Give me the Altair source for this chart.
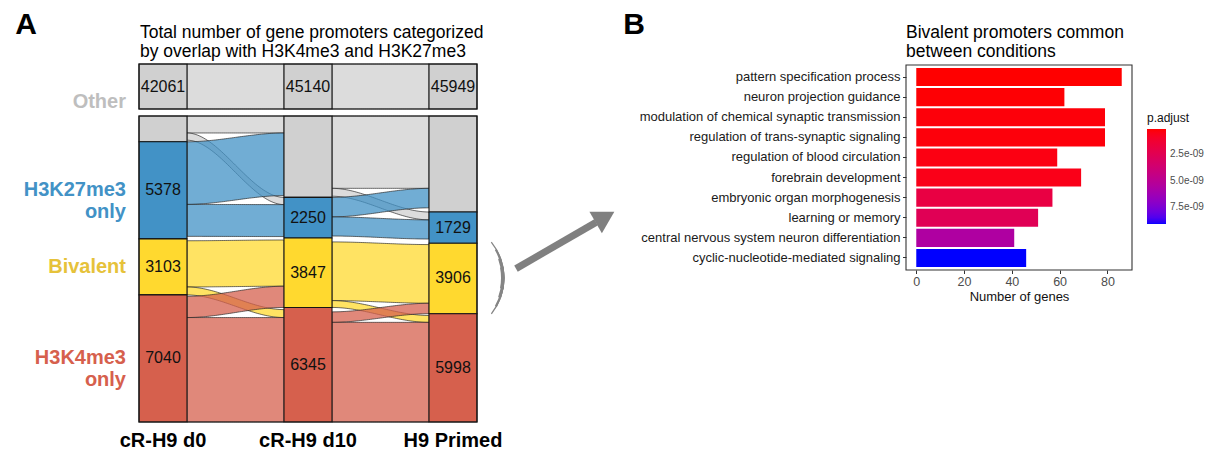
import altair as alt
import numpy as np
import pandas as pd

# ---------------------------------------------------------------- data
conditions = ["cR-H9 d0", "cR-H9 d10", "H9 Primed"]
states = ["Other", "H3K27me3 only", "Bivalent", "H3K4me3 only"]  # top to bottom
other_counts = [42061, 45140, 45949]
k27_counts = [5378, 2250, 1729]
bivalent_counts = [3103, 3847, 3906]
k4_counts = [7040, 6345, 5998]

# promoter transitions between neighbouring conditions
# rows: state in the earlier condition, columns: state in the later one
d0_to_d10 = [
    [41572, 400, 30, 59],
    [3468, 1770, 80, 60],
    [60, 43, 2560, 440],
    [40, 37, 1177, 5786],
]
d10_to_primed = [
    [44639, 437, 36, 28],
    [1080, 1060, 40, 70],
    [110, 107, 3250, 380],
    [120, 125, 580, 5520],
]

go_terms = [
    "pattern specification process",
    "neuron projection guidance",
    "modulation of chemical synaptic transmission",
    "regulation of trans-synaptic signaling",
    "regulation of blood circulation",
    "forebrain development",
    "embryonic organ morphogenesis",
    "learning or memory",
    "central nervous system neuron differentiation",
    "cyclic-nucleotide-mediated signaling",
]
go_counts = [86, 62, 79, 79, 59, 69, 57, 51, 41, 46]
go_padj = [1.4e-10, 2.0e-10, 2.8e-10, 3.0e-10, 4.2e-10, 5.5e-10,
           1.9e-09, 2.6e-09, 5.6e-09, 9.1e-09]
padj_ticks = [2.5e-09, 5.0e-09, 7.5e-09]
count_ticks = [0, 20, 40, 60, 80]

# ---------------------------------------------------------------- style / layout
FONT = "Liberation Sans"
W, H = 1209, 453
state_fill = ["#D0D0D0", "#4292C6", "#FFD92F", "#D6604D"]
state_label_color = ["#BEBEBE", "#4292C6", "#E6C23A", "#D6604D"]
state_group = [0, 0, 1, 1]  # transitions across groups are left blank

A_LEFT, A_RIGHT = 139, 477
MAIN_TOP, MAIN_BOTTOM = 116, 422
BOX_TOP, BOX_BOTTOM = 64, 109
B_LEFT, B_RIGHT = 906, 1132
B_TOP, B_BOTTOM = 65, 270
LEG_X, LEG_Y, LEG_W, LEG_LEN, LEG_TITLE = 1147, 113, 19, 95, 16

HALF = 0.1655          # half width of a stratum column, in axis units
CUT = 16950            # upper limit of the lower (broken) y range
total = other_counts[0] + k27_counts[0] + bivalent_counts[0] + k4_counts[0]

x_a = alt.Scale(domain=[1 - HALF, 3 + HALF], range=[A_LEFT, A_RIGHT], nice=False, zero=False)
y_main = alt.Scale(domain=[0, CUT], range=[MAIN_BOTTOM, MAIN_TOP], nice=False, zero=False)
y_box = alt.Scale(domain=[CUT, total], range=[BOX_BOTTOM, BOX_TOP], nice=False, zero=False)

# ---------------------------------------------------------------- strata
column_counts = list(zip(other_counts, k27_counts, bivalent_counts, k4_counts))


def stratum_bottoms(c):
    counts = column_counts[c]
    out, acc = [0] * 4, 0
    for s in reversed(range(4)):
        out[s] = acc
        acc += counts[s]
    return out


strata_main, strata_box = [], []
for c, counts in enumerate(column_counts):
    b = stratum_bottoms(c)
    for s in range(4):
        lo, hi = b[s], b[s] + counts[s]
        strata_main.append(dict(x0=c + 1 - HALF, x1=c + 1 + HALF, lo=lo, hi=min(hi, CUT),
                                mid=(lo + hi) / 2, fill=state_fill[s],
                                label=str(counts[s]) if s > 0 else ""))
        if hi > CUT:
            strata_box.append(dict(x0=c + 1 - HALF, x1=c + 1 + HALF, lo=max(lo, CUT), hi=hi,
                                   pos=c + 1, mid=(max(lo, CUT) + hi) / 2,
                                   fill=state_fill[s], label=str(counts[s])))
strata_main = pd.DataFrame(strata_main)
strata_box = pd.DataFrame(strata_box)
strata_main["pos"] = (strata_main["x0"] + strata_main["x1"]) / 2

# ---------------------------------------------------------------- flows
t = np.linspace(0, 1, 49)
ease = 3 * t ** 2 - 2 * t ** 3
flow_main, flow_box = [], []
for c, M in enumerate([d0_to_d10, d10_to_primed]):
    b0, b1 = stratum_bottoms(c), stratum_bottoms(c + 1)
    xs = (c + 1 + HALF) + ((c + 2 - HALF) - (c + 1 + HALF)) * t
    for i in range(4):
        for j in range(4):
            if state_group[i] != state_group[j]:
                continue
            src_lo = b0[i] + sum(M[i][j + 1:])
            dst_lo = b1[j] + sum(M[k][j] for k in range(i + 1, 4))
            lo = src_lo + (dst_lo - src_lo) * ease
            hi = lo + M[i][j]
            layer = 1 if i in (1, 3) else 0
            fid = f"{c}-{i}-{j}"
            for x, l, h in zip(xs, lo, hi):
                flow_main.append(dict(flow=fid, x=x, lo=min(l, CUT), hi=min(h, CUT),
                                      fill=state_fill[i], layer=layer))
                if h > CUT:
                    flow_box.append(dict(flow=fid, x=x, lo=max(l, CUT), hi=h,
                                         fill=state_fill[i], layer=layer))
flow_main = pd.DataFrame(flow_main)
flow_box = pd.DataFrame(flow_box)


def flow_layer(df, yscale):
    return alt.Chart(df).mark_area(
        orient="vertical", fillOpacity=0.75, stroke="#262626",
        strokeWidth=0.75, strokeOpacity=0.9,
    ).encode(
        x=alt.X("x:Q", scale=x_a, axis=None),
        y=alt.Y("lo:Q", scale=yscale, axis=None),
        y2="hi:Q",
        fill=alt.Fill("fill:N", scale=None),
        detail="flow:N",
    )


flows = [
    flow_layer(flow_main[flow_main.layer == 0], y_main),
    flow_layer(flow_main[flow_main.layer == 1], y_main),
    flow_layer(flow_box, y_box),
]


def strata_layer(df, yscale):
    return alt.Chart(df).mark_rect(stroke="#141414", strokeWidth=1.1).encode(
        x=alt.X("x0:Q", scale=x_a, axis=None),
        x2="x1:Q",
        y=alt.Y("lo:Q", scale=yscale, axis=None),
        y2="hi:Q",
        fill=alt.Fill("fill:N", scale=None),
    )


def count_labels(df, yscale):
    return alt.Chart(df).mark_text(font=FONT, fontSize=16, color="#111").encode(
        x=alt.X("pos:Q", scale=x_a, axis=None),
        y=alt.Y("mid:Q", scale=yscale, axis=None),
        text="label:N",
    )


frames = pd.DataFrame({"x0": [1 - HALF, 1 - HALF], "x1": [3 + HALF, 3 + HALF],
                       "lo": [0, CUT], "hi": [CUT, total], "part": ["main", "box"]})


def frame_layer(df, yscale):
    return alt.Chart(df).mark_rect(fillOpacity=0, stroke="#141414", strokeWidth=1.1).encode(
        x=alt.X("x0:Q", scale=x_a, axis=None), x2="x1:Q",
        y=alt.Y("lo:Q", scale=yscale, axis=None), y2="hi:Q",
    )


panel_a = flows + [
    strata_layer(strata_main, y_main),
    strata_layer(strata_box, y_box),
    frame_layer(frames[frames.part == "main"], y_main),
    frame_layer(frames[frames.part == "box"], y_box),
    count_labels(strata_main[strata_main.label != ""], y_main),
    count_labels(strata_box, y_box),
]

# state names at the left, centred on the first column's strata
first = strata_main.iloc[0:4]
state_labels = pd.DataFrame({
    "text": [s.replace(" only", "\nonly") for s in states[1:]],
    "mid": first["mid"].iloc[1:].values,
    "color": state_label_color[1:],
})
panel_a.append(
    alt.Chart(state_labels).mark_text(
        font=FONT, fontSize=20, fontWeight="bold", align="right", baseline="middle",
        lineBreak="\n", lineHeight=22,
    ).encode(
        x=alt.value(126),
        y=alt.Y("mid:Q", scale=y_main, axis=None),
        text="text:N",
        color=alt.Color("color:N", scale=None),
    )
)
panel_a.append(
    alt.Chart(pd.DataFrame({"text": [states[0]], "y": [CUT]})).mark_text(
        font=FONT, fontSize=20, fontWeight="bold", align="right", baseline="alphabetic",
        dy=-1.5, color=state_label_color[0],
    ).encode(x=alt.value(126), y=alt.Y("y:Q", scale=y_box, axis=None), text="text:N")
)
panel_a.append(
    alt.Chart(pd.DataFrame({"cond": conditions, "pos": [1, 2, 3]})).mark_text(
        font=FONT, fontSize=20, fontWeight="bold", baseline="middle", color="#000",
    ).encode(x=alt.X("pos:Q", scale=x_a, axis=None), y=alt.value(441), text="cond:N")
)

# ---------------------------------------------------------------- panel B
go_df = pd.DataFrame({"term": go_terms, "count": go_counts, "p": go_padj, "start": 0})
pad = 0.05 * max(go_counts)
x_b = alt.Scale(domain=[-pad, max(go_counts) + pad], range=[B_LEFT, B_RIGHT], nice=False, zero=False)
y_b = alt.Scale(domain=go_terms, range=[B_TOP, B_BOTTOM], paddingInner=0.1, paddingOuter=0.15)

bars = alt.Chart(go_df).mark_bar().encode(
    x=alt.X("count:Q", scale=x_b, axis=alt.Axis(
        orient="bottom", offset=B_BOTTOM - H, values=count_ticks, format="d",
        title="Number of genes", domain=False, grid=False,
        tickSize=3.5, tickColor="#333", tickWidth=1,
        labelFont=FONT, labelFontSize=12.5, labelColor="#4D4D4D", labelPadding=1.5,
        titleFont=FONT, titleFontSize=13, titleFontWeight="normal", titleColor="#111",
        titlePadding=3,
    )),
    x2="start:Q",
    y=alt.Y("term:N", scale=y_b, sort=go_terms, axis=alt.Axis(
        orient="left", offset=-B_LEFT, title=None, domain=False, grid=False,
        tickSize=3.5, tickColor="#333", tickWidth=1,
        labelFont=FONT, labelFontSize=13, labelColor="#1a1a1a", labelPadding=2.5,
        labelLimit=400,
    )),
    color=alt.Color("p:Q", scale=alt.Scale(
        domain=[max(go_padj), min(go_padj)], range=["#0000FF", "#FF0000"],
        interpolate="lab", zero=False, nice=False,
    ), legend=alt.Legend(
        title="p.adjust", orient="none", legendX=LEG_X, legendY=LEG_Y, direction="vertical",
        gradientLength=LEG_LEN, gradientThickness=LEG_W, gradientStrokeWidth=0,
        values=padj_ticks, labelExpr="replace(format(datum.value, '.1e'), 'e-', 'e-0')",
        labelFont=FONT, labelFontSize=10, labelColor="#4D4D4D", labelOffset=4,
        titleFont=FONT, titleFontSize=12, titleFontWeight="normal", titleColor="#111",
        titlePadding=4, padding=0,
    )),
)

panel_frame = alt.Chart(pd.DataFrame({"a": [-pad], "b": [max(go_counts) + pad]})).mark_rect(
    fillOpacity=0, stroke="#333", strokeWidth=1.1,
).encode(
    x=alt.X("a:Q", scale=x_b, axis=None), x2="b:Q",
    y=alt.value(B_TOP), y2=alt.value(B_BOTTOM),
)

# short white ticks on both edges of the colour bar
bar_top = LEG_Y + LEG_TITLE
y_leg = alt.Scale(domain=[min(go_padj), max(go_padj)], range=[bar_top, bar_top + LEG_LEN],
                  nice=False, zero=False)
leg_ticks = [
    alt.Chart(pd.DataFrame({"p": padj_ticks})).mark_rule(color="white", strokeWidth=1).encode(
        x=alt.value(x0), x2=alt.value(x0 + 4),
        y=alt.Y("p:Q", scale=y_leg, axis=None),
    )
    for x0 in (LEG_X, LEG_X + LEG_W - 4)
]

# ---------------------------------------------------------------- titles and annotations
one = pd.DataFrame({"k": [0]})


def note(text, x, y, size, weight="normal", align="left", color="#000", line_height=19.5):
    return alt.Chart(one).mark_text(
        font=FONT, fontSize=size, fontWeight=weight, align=align, baseline="alphabetic",
        color=color, lineBreak="\n", lineHeight=line_height,
    ).encode(x=alt.value(x), y=alt.value(y), text=alt.value(text))


notes = [
    note("A", 26, 34, 30, "bold", "center"),
    note("B", 634, 34, 30, "bold", "center"),
    note("Total number of gene promoters categorized\nby overlap with H3K4me3 and H3K27me3",
         140, 37.5, 17.5),
    note("Bivalent promoters common\nbetween conditions", 906, 37.5, 17.5),
]

arrow = [
    alt.Chart(one).mark_rule(color="#808080", strokeWidth=7, strokeCap="butt").encode(
        x=alt.value(516), y=alt.value(268.6), x2=alt.value(596), y2=alt.value(222.4)),
    alt.Chart(one).mark_point(shape="triangle-up", size=620, filled=True, color="#808080",
                              opacity=1, angle=60, strokeWidth=0).encode(
        x=alt.value(605), y=alt.value(217.2)),
]

bracket = [
    alt.Chart(one).mark_arc(theta=t0, theta2=t1, innerRadius=r_in, outerRadius=58.5,
                            color="#858585").encode(x=alt.value(446), y=alt.value(278))
    for t0, t1, r_in in [(0.90, 2.24, 57.2), (1.05, 2.09, 56.3), (1.22, 1.92, 55.5),
                         (1.38, 1.76, 55.0)]
]

chart = alt.layer(
    *panel_a, bars, panel_frame, *leg_ticks, *notes, *arrow, *bracket
).resolve_scale(
    x="independent", y="independent", color="independent"
).properties(
    width=W, height=H, padding=0, autosize=alt.AutoSizeParams(type="none"),
    background="white",
).configure_view(stroke=None)

chart.save("out.html", embed_options={"renderer": "svg", "actions": False})
